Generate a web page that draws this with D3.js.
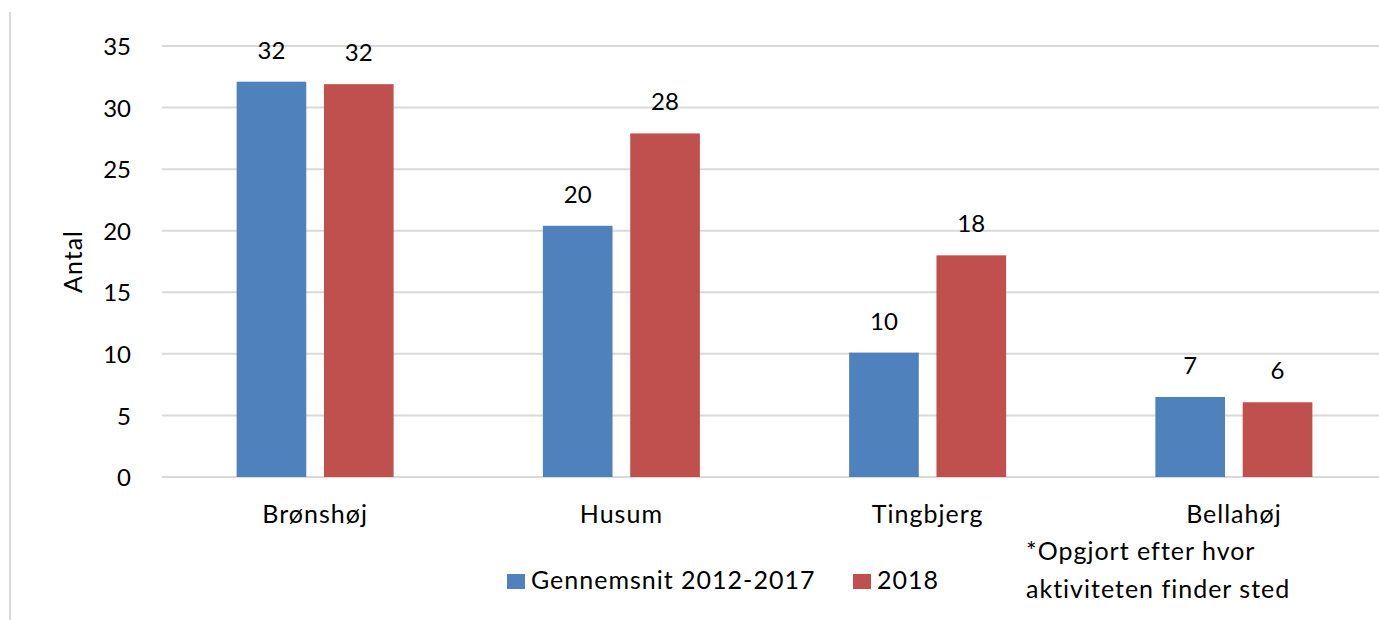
<!DOCTYPE html>
<html>
<head>
<meta charset="utf-8">
<script src="https://cdn.jsdelivr.net/npm/d3@7"></script>
<style>
  html, body { margin: 0; padding: 0; background: #fff; }
  svg { display: block; }
  text { font-family: Lato, "Open Sans", sans-serif; fill: #000; }
</style>
</head>
<body>
<svg id="chart" width="1379" height="620"></svg>
<script>
const categories = ["Brønshøj", "Husum", "Tingbjerg", "Bellahøj"];
const seriesNames = ["Gennemsnit 2012-2017", "2018"];
const avgValues = [32.1, 20.4, 10.1, 6.5];
const values2018 = [31.9, 27.9, 18.0, 6.07];
const yTicks = [0, 5, 10, 15, 20, 25, 30, 35];
const colors = ["#4F81BD", "#C0504D"];
const noteLines = ["*Opgjort efter hvor", "aktiviteten finder sted"];
const yLabel = "Antal";

const svg = d3.select("#chart");
const plotLeft = 162, plotRight = 1387, plotTop = 46, plotBottom = 477;

// left border line
svg.append("line")
  .attr("x1", 10).attr("x2", 10).attr("y1", 12).attr("y2", 620)
  .attr("stroke", "#d9d9d9").attr("stroke-width", 2);

const x0 = d3.scaleBand().domain(categories).range([plotLeft, plotRight]).padding(0);
const pairWidth = 157;
const x1 = d3.scaleBand().domain(seriesNames).range([0, pairWidth]).paddingInner(0.2025).paddingOuter(0);
const y = d3.scaleLinear().domain([0, 35]).range([plotBottom, plotTop]);

// gridlines
svg.append("g").selectAll("line").data(yTicks).join("line")
  .attr("x1", plotLeft).attr("x2", plotRight)
  .attr("y1", d => y(d)).attr("y2", d => y(d))
  .attr("stroke", "#d9d9d9").attr("stroke-width", 2);

// y axis
const yAxis = svg.append("g")
  .attr("transform", `translate(${plotLeft},0)`)
  .call(d3.axisLeft(y).tickValues(yTicks).tickSize(0).tickPadding(31));
yAxis.select(".domain").remove();
yAxis.selectAll("text").style("font-size", "24px").attr("dy", "0.36em")
  .style("font-family", "Lato, sans-serif");

// y label
svg.append("text")
  .attr("transform", `translate(82,${(plotTop + plotBottom) / 2}) rotate(-90)`)
  .attr("text-anchor", "middle")
  .style("font-size", "25px").style("letter-spacing", "1px")
  .text(yLabel);

const data = categories.map((c, i) => ({ cat: c, vals: [avgValues[i], values2018[i]] }));

const groups = svg.append("g").selectAll("g").data(data).join("g")
  .attr("transform", d => `translate(${x0(d.cat) + x0.bandwidth() / 2 - pairWidth / 2},0)`);

groups.selectAll("rect").data(d => d.vals.map((v, j) => ({ s: seriesNames[j], v, j })))
  .join("rect")
  .attr("x", d => x1(d.s))
  .attr("width", x1.bandwidth())
  .attr("y", d => y(d.v))
  .attr("height", d => y(0) - y(d.v))
  .attr("fill", d => colors[d.j]);

groups.selectAll("text.lbl").data(d => d.vals.map((v, j) => ({ s: seriesNames[j], v, j })))
  .join("text").attr("class", "lbl")
  .attr("x", d => x1(d.s) + x1.bandwidth() / 2)
  .attr("y", d => y(d.v) - 23)
  .attr("text-anchor", "middle")
  .style("font-size", "24px")
  .text(d => Math.round(d.v));

// x axis labels
const xAxis = svg.append("g")
  .attr("transform", `translate(0,${plotBottom})`)
  .call(d3.axisBottom(x0).tickSize(0).tickPadding(28));
xAxis.select(".domain").remove();
xAxis.selectAll("text").style("font-size", "25px").style("font-family", "Lato, sans-serif")
  .style("letter-spacing", "1px")
  .attr("dy", "0.71em");

// legend
const legendItems = [
  { name: seriesNames[0], color: colors[0], x: 507 },
  { name: seriesNames[1], color: colors[1], x: 853 }
];
const lg = svg.append("g").selectAll("g").data(legendItems).join("g")
  .attr("transform", d => `translate(${d.x},0)`);
lg.append("rect").attr("x", 0).attr("y", 574).attr("width", 18).attr("height", 15)
  .attr("fill", d => d.color);
lg.append("text").attr("x", 24).attr("y", 589)
  .style("font-size", "25px").style("letter-spacing", "1px").text(d => d.name);

// note
svg.append("g").selectAll("text").data(noteLines).join("text")
  .attr("x", 1026).attr("y", (d, i) => 560 + i * 37.5)
  .style("font-size", "25px").style("letter-spacing", "1px")
  .text(d => d);
</script>
</body>
</html>
